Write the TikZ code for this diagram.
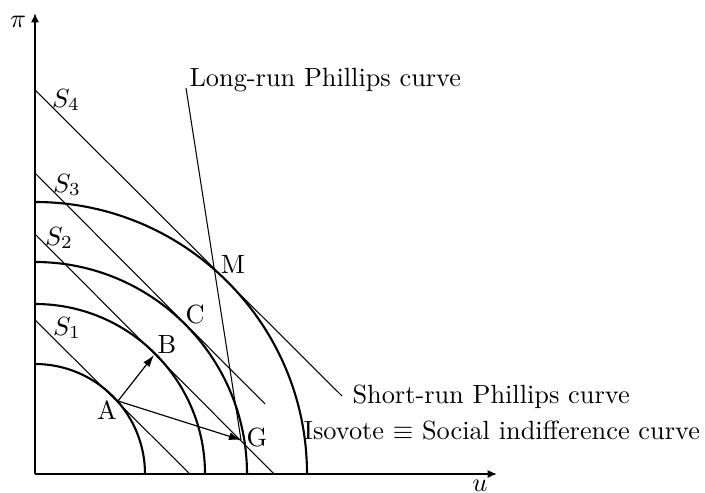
\documentclass[tikz,border=0pt]{standalone}
\usepackage{tikz}
\usetikzlibrary{arrows.meta}
\tikzset{
  econaxis/.style={
    line width=0.8pt,
    -{Latex[length=3.6pt,width=3.2pt]}
  },
  isovote/.style={
    line width=0.8pt
  },
  phillips/.style={
    line width=0.4pt
  },
  moveto/.style={
    line width=0.45pt,
    -{Latex[length=4.6pt,width=3pt]}
  },
  econlabel/.style={
    inner sep=0pt
  }
}

\begin{document}
\begin{tikzpicture}[x=0.38pt,y=0.38pt]
\useasboundingbox (-35,-19) rectangle (670,474);
% axes
\coordinate (O) at (0,0);
\coordinate (ytop) at (0,461);
\coordinate (xend) at (462,0);
\draw[econaxis] (O) -- (ytop);
\draw[econaxis] (O) -- (xend);
\node[econlabel] (pilab) at (-17,452) {$\pi$};
\node[econlabel] (ulab) at (445,-12) {$u$};

% isovotes
\draw[isovote] (110,0) arc[start angle=0,end angle=90,radius=110];
\draw[isovote] (170,0) arc[start angle=0,end angle=90,radius=170];
\draw[isovote] (212,0) arc[start angle=0,end angle=90,radius=212];
\draw[isovote] (272,0) arc[start angle=0,end angle=90,radius=272];

% short-run Phillips curves
\coordinate (S1a) at (0,154);
\coordinate (S1b) at (155,0);
\coordinate (S2a) at (0,240);
\coordinate (S2b) at (239,0);
\coordinate (S3a) at (0,301);
\coordinate (S3b) at (230,70);
\coordinate (S4a) at (0,384);
\coordinate (S4b) at (307,78);
\draw[phillips] (S1a) -- (S1b);
\draw[phillips] (S2a) -- (S2b);
\draw[phillips] (S3a) -- (S3b);
\draw[phillips] (S4a) -- (S4b);
\node[econlabel] (S1lab) at (32,146) {$S_1$};
\node[econlabel] (S2lab) at (24,236) {$S_2$};
\node[econlabel] (S3lab) at (32,289) {$S_3$};
\node[econlabel] (S4lab) at (31,374) {$S_4$};

% points
\coordinate (A) at (83,73);
\coordinate (B) at (119,119);
\coordinate (G) at (206,34);
\coordinate (lrtop) at (151,386);
\node[econlabel] (Alab) at (72,64) {A};
\node[econlabel] (Blab) at (132,129) {B};
\node[econlabel] (Clab) at (160,159) {C};
\node[econlabel] (Mlab) at (198,209) {M};
\node[econlabel] (Glab) at (222,36) {G};

% long-run Phillips curve
\draw[phillips] (lrtop) -- (G);

% moves
\draw[moveto] (A) -- (B);
\draw[moveto] (A) -- (G);

% curve names
\node[econlabel, anchor=west] (lrlab) at (154,394) {Long-run Phillips curve};
\node[econlabel, anchor=west] (srlab) at (317,77) {Short-run Phillips curve};
\node[econlabel, anchor=west] (isolab) at (268,43) {Isovote $\equiv$ Social indifference curve};
\end{tikzpicture}
\end{document}
